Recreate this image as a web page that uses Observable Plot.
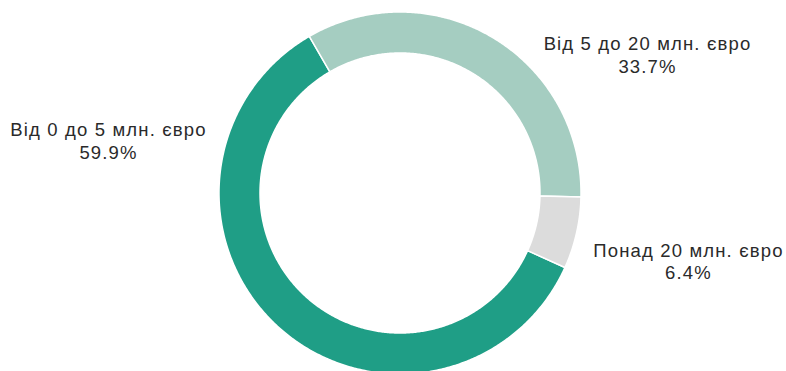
<!DOCTYPE html>
<html>
<head>
<meta charset="utf-8">
<script src="https://cdn.jsdelivr.net/npm/d3@7"></script>
<script src="https://cdn.jsdelivr.net/npm/@observablehq/plot@0.6"></script>
<style>
  html, body { margin: 0; padding: 0; background: #fff; }
  #chart svg { display: block; }
  #chart text { letter-spacing: 1.15px; }
</style>
</head>
<body>
<div id="chart"></div>
<script>
// ---- data ----
const categories = ["Від 0 до 5 млн. євро", "Від 5 до 20 млн. євро", "Понад 20 млн. євро"];
const shares = [59.9, 33.7, 6.4];
const colors = ["#1f9e86", "#a5cdc1", "#dcdcdc"];

// ---- layout ----
const W = 786, H = 371;
const cx = 400, cy = 193, rOuter = 181, rInner = 140;
const startDeg = 114.3; // clockwise from top
const labelAnchors = [[108, 139.6], [647, 53.8], [688, 260.3]];

const total = d3.sum(shares);
const toRad = Math.PI / 180;
const ring = [];
let a0 = startDeg;
shares.forEach((v, i) => {
  const span = v / total * 360;
  const a1 = a0 + span;
  const n = Math.max(2, Math.ceil(span / 0.5));
  for (let k = 0; k <= n; k++) {
    const a = (a0 + (a1 - a0) * k / n) * toRad;
    ring.push({
      cat: categories[i],
      xo: cx + rOuter * Math.sin(a), yo: cy - rOuter * Math.cos(a),
      xi: cx + rInner * Math.sin(a), yi: cy - rInner * Math.cos(a)
    });
  }
  a0 = a1;
});

const labels = categories.map((c, i) => ({
  text: c + "\n" + shares[i].toFixed(1) + "%",
  x: labelAnchors[i][0], y: labelAnchors[i][1]
}));

const chart = Plot.plot({
  width: W, height: H,
  margin: 0,
  x: {domain: [0, W], range: [0, W], axis: null},
  y: {domain: [0, H], range: [0, H], axis: null},
  color: {domain: categories, range: colors},
  style: {fontFamily: "'Liberation Sans', Arial, sans-serif", background: "#fff"},
  marks: [
    Plot.area(ring, {x1: "xo", y1: "yo", x2: "xi", y2: "yi", z: "cat", fill: "cat",
      stroke: "#fff", strokeWidth: 1.5, curve: "linear"}),
    Plot.text(labels, {x: "x", y: "y", text: "text", textAnchor: "middle",
      fontSize: 18.5, lineHeight: 22.5 / 18.5, fill: "#2a2a2a"})
  ]
});
document.getElementById("chart").appendChild(chart);
</script>
</body>
</html>
